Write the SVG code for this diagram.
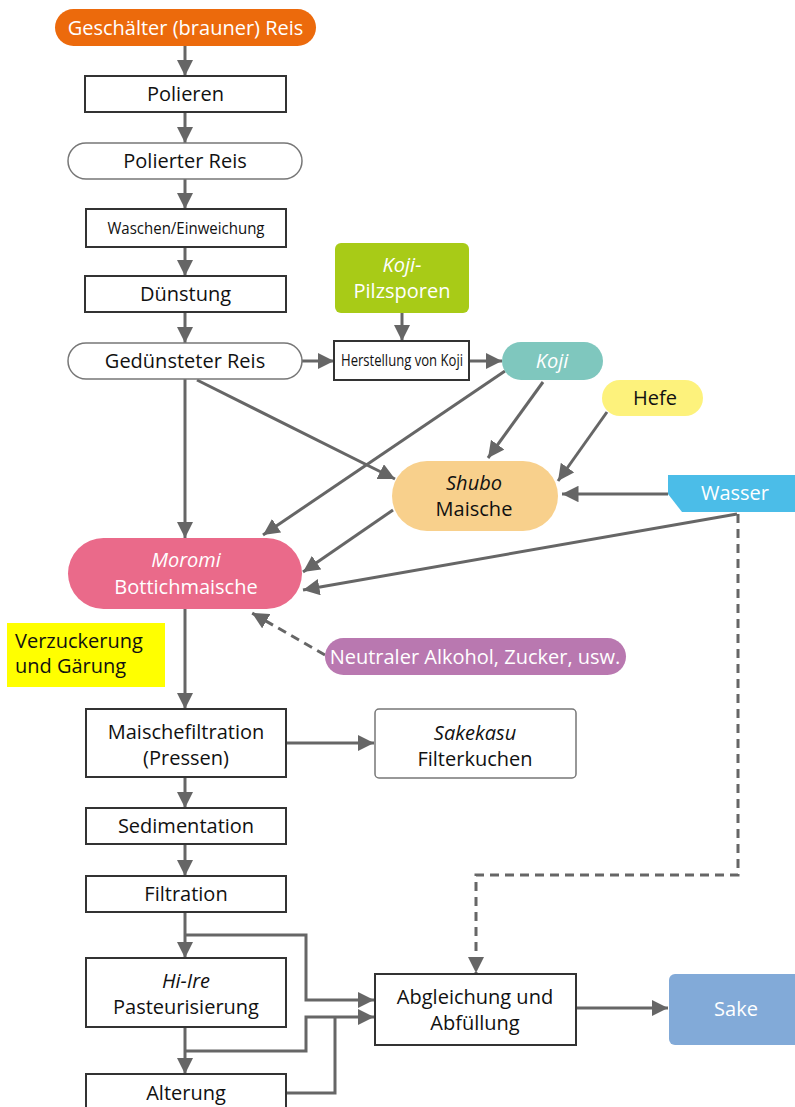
<svg xmlns="http://www.w3.org/2000/svg" width="795" height="1107" viewBox="0 0 795 1107">
<defs>
<marker id="ah" viewBox="0 0 10 10" refX="10" refY="5" markerWidth="5.5" markerHeight="5.5" markerUnits="strokeWidth" orient="auto">
<path d="M0,0 L10,5 L0,10 z" fill="#666"/>
</marker>
<style>
text{font-family:"Open Sans","Noto Sans","Liberation Sans",sans-serif;font-size:20px;text-anchor:middle;fill:#111}
.w{fill:#fff}
.i{font-style:italic}
.box{fill:#fff;stroke:#333;stroke-width:2}
.pill{fill:#fff;stroke:#777;stroke-width:1.5}
.c line,.c path,.c polyline{stroke:#666;stroke-width:3;fill:none;marker-end:url(#ah)}
.c .nm{marker-end:none}
.c .d{stroke-dasharray:9 6}
</style>
</defs>
<rect width="795" height="1107" fill="#fff"/>
<g class="c">
<line x1="185" y1="46" x2="185" y2="76"/>
<line x1="185" y1="112" x2="185" y2="143"/>
<line x1="185" y1="179" x2="185" y2="209"/>
<line x1="185" y1="247" x2="185" y2="276"/>
<line x1="185" y1="312" x2="185" y2="343"/>
<line x1="302" y1="361" x2="334" y2="361"/>
<line x1="402" y1="313" x2="402" y2="341"/>
<line x1="469" y1="361" x2="502" y2="361"/>
<line x1="185" y1="379" x2="185" y2="538"/>
<line x1="197" y1="380" x2="395" y2="479"/>
<line x1="505" y1="371" x2="263" y2="535"/>
<line x1="543" y1="382" x2="488" y2="458"/>
<line x1="607" y1="412" x2="558" y2="481"/>
<line x1="668" y1="494" x2="562" y2="494"/>
<line x1="393" y1="510" x2="303" y2="572"/>
<line x1="737" y1="514" x2="303" y2="590"/>
<line class="d" x1="325" y1="655" x2="252" y2="613"/>
<line x1="185" y1="609" x2="185" y2="709"/>
<line x1="286" y1="743" x2="374" y2="743"/>
<line x1="185" y1="777" x2="185" y2="808"/>
<line x1="185" y1="844" x2="185" y2="876"/>
<line x1="185" y1="912" x2="185" y2="958"/>
<polyline points="185,935 306,935 306,1000 374,1000"/>
<line x1="185" y1="1027" x2="185" y2="1074"/>
<polyline points="185,1051 306,1051 306,1017 374,1017"/>
<polyline class="nm" points="286,1093 335,1093 335,1017"/>
<polyline class="d" points="738,514 738,875 476,875 476,973"/>
<line x1="576" y1="1008" x2="668" y2="1008"/>
</g>
<g id="n-reis"><rect x="55" y="9" width="261" height="37" rx="18.5" fill="#EC6A0C"/><text class="w" x="185.5" y="34.5">Geschälter (brauner) Reis</text></g>
<g id="n-polieren"><rect class="box" x="85" y="76" width="201" height="36"/><text x="185.5" y="101">Polieren</text></g>
<g id="n-polierter"><rect class="pill" x="68" y="143" width="234" height="36" rx="18"/><text x="185" y="168">Polierter Reis</text></g>
<g id="n-waschen"><rect class="box" x="86" y="209" width="200" height="38"/><text x="186" y="234" style="font-size:17px" textLength="157" lengthAdjust="spacingAndGlyphs">Waschen/Einweichung</text></g>
<g id="n-duenstung"><rect class="box" x="85" y="276" width="201" height="36"/><text x="185.5" y="301">Dünstung</text></g>
<g id="n-geduenstet"><rect class="pill" x="68" y="343" width="234" height="36" rx="18"/><text x="185" y="368">Gedünsteter Reis</text></g>
<g id="n-sporen"><rect x="335" y="243" width="134" height="70" rx="6" fill="#A8CB17"/><text class="w i" x="402" y="272">Koji-</text><text class="w" x="402" y="298">Pilzsporen</text></g>
<g id="n-herstellung"><rect class="box" x="334" y="341" width="135" height="39"/><text x="402" y="366" style="font-size:15.5px" textLength="122" lengthAdjust="spacingAndGlyphs">Herstellung von Koji</text></g>
<g id="n-koji"><rect x="502" y="342" width="101" height="38" rx="19" fill="#7FC7BE"/><text class="w i" x="552" y="368">Koji</text></g>
<g id="n-hefe"><rect x="602" y="380" width="101" height="36" rx="18" fill="#FDF27C"/><text x="655" y="405">Hefe</text></g>
<g id="n-shubo"><rect x="392" y="461" width="166" height="70" rx="35" fill="#F8D08C"/><text class="i" x="474" y="490">Shubo</text><text x="474" y="516">Maische</text></g>
<g id="n-wasser"><polygon points="668,475 795,475 795,512 682,512 668,494" fill="#4BBDE8"/><text class="w" x="735" y="500">Wasser</text></g>
<g id="n-moromi"><rect x="68" y="538" width="234" height="71" rx="35.5" fill="#EA6A8A"/><text class="w i" x="186" y="567">Moromi</text><text class="w" x="186" y="594">Bottichmaische</text></g>
<g id="n-verzuckerung"><rect x="7" y="623" width="158" height="64" fill="#FFFF00"/><text x="15" y="648" style="text-anchor:start">Verzuckerung</text><text x="15" y="673" style="text-anchor:start">und Gärung</text></g>
<g id="n-neutral"><rect x="325" y="638" width="301" height="37" rx="18.5" fill="#B978B0"/><text class="w" x="475" y="663.5">Neutraler Alkohol, Zucker, usw.</text></g>
<g id="n-maischefiltration"><rect class="box" x="86" y="709" width="200" height="68"/><text x="186" y="739">Maischefiltration</text><text x="186" y="765">(Pressen)</text></g>
<g id="n-sakekasu"><rect class="pill" x="375" y="709" width="201" height="69" rx="4"/><text class="i" x="475" y="740">Sakekasu</text><text x="475" y="766">Filterkuchen</text></g>
<g id="n-sedimentation"><rect class="box" x="86" y="808" width="200" height="36"/><text x="186" y="833">Sedimentation</text></g>
<g id="n-filtration"><rect class="box" x="86" y="876" width="200" height="36"/><text x="186" y="901">Filtration</text></g>
<g id="n-hiire"><rect class="box" x="86" y="958" width="200" height="69"/><text class="i" x="186" y="988">Hi-Ire</text><text x="186" y="1014">Pasteurisierung</text></g>
<g id="n-alterung"><rect class="box" x="86" y="1074" width="200" height="40"/><text x="186" y="1100">Alterung</text></g>
<g id="n-abgleichung"><rect class="box" x="375" y="974" width="201" height="71"/><text x="475" y="1004">Abgleichung und</text><text x="475" y="1030">Abfüllung</text></g>
<g id="n-sake"><rect x="669" y="974" width="140" height="71" rx="6" fill="#82AAD8"/><text class="w" x="736" y="1016">Sake</text></g>
</svg>
